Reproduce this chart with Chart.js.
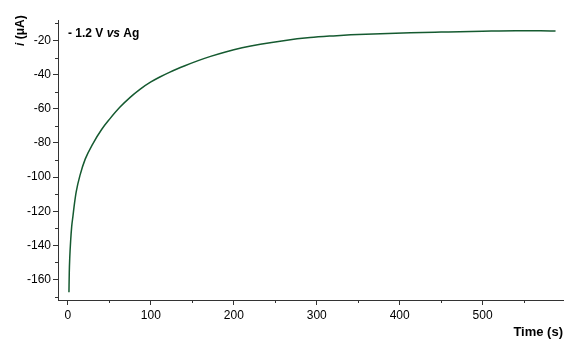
<!DOCTYPE html>
<html>
<head>
<meta charset="utf-8">
<script src="https://cdn.jsdelivr.net/npm/chart.js@4.4.1/dist/chart.umd.min.js"></script>
<style>
  html, body { margin: 0; padding: 0; background: #fff; }
  #wrap { width: 568px; height: 342px; }
</style>
</head>
<body>
<div id="wrap"><canvas id="chart" width="568" height="342"></canvas></div>
<script>
const timeS = [1.2, 1.6, 2.2, 3.3, 4.5, 6, 8, 10, 14.5, 20.8, 30, 40.8, 50, 62.8, 75, 86.8, 100, 110.8, 123, 141, 157, 172, 190, 210, 232, 260, 292, 320, 341, 377, 413, 450, 500, 540, 570, 588];
const currentUA = [-167.5, -156, -147, -137, -129, -123, -115, -108.5, -99, -89.5, -80.5, -72, -66.2, -59, -53.3, -48.6, -44.3, -41.4, -38.5, -34.8, -31.8, -29.3, -26.7, -24.3, -22.2, -20.1, -18.3, -17.3, -16.7, -16, -15.5, -15.1, -14.6, -14.3, -14.3, -14.5];
const xMajorTicks = [0, 100, 200, 300, 400, 500];
const xMinorTicks = [50, 150, 250, 350, 450, 550];
const yMajorTicks = [-160, -140, -120, -100, -80, -60, -40, -20];
const yMinorTicks = [-170, -150, -130, -110, -90, -70, -50, -30, -10];

const FONT = '"Liberation Sans", Arial, sans-serif';
const AXIS_COLOR = '#333';

const extras = {
    id: 'extras',
    afterDraw(chart) {
        const ctx = chart.ctx;
        const xs = chart.scales.x, ys = chart.scales.y;
        ctx.save();
        ctx.strokeStyle = AXIS_COLOR;
        ctx.lineWidth = 1;
        ctx.beginPath();
        xMinorTicks.forEach(v => {
            const px = Math.round(xs.getPixelForValue(v)) + 0.5;
            ctx.moveTo(px, xs.top);
            ctx.lineTo(px, xs.top + 3);
        });
        yMinorTicks.forEach(v => {
            const py = Math.round(ys.getPixelForValue(v)) + 0.5;
            ctx.moveTo(ys.right, py);
            ctx.lineTo(ys.right - 3, py);
        });
        ctx.stroke();

        ctx.fillStyle = '#000';
        ctx.textBaseline = 'alphabetic';
        // annotation
        let x = 68;
        const parts = [['bold ', '- 1.2 V '], ['italic bold ', 'vs'], ['bold ', ' Ag']];
        parts.forEach(([style, txt]) => {
            ctx.font = style + '12px ' + FONT;
            ctx.fillText(txt, x, 37);
            x += ctx.measureText(txt).width;
        });

        // x title
        ctx.font = 'bold 13px ' + FONT;
        ctx.textAlign = 'right';
        ctx.fillText('Time (s)', 563, 336);

        // y title
        ctx.translate(24, 46);
        ctx.rotate(-Math.PI / 2);
        ctx.textAlign = 'left';
        ctx.font = 'italic bold 12px ' + FONT;
        ctx.fillText('i', 0, 0);
        let w = ctx.measureText('i').width;
        ctx.font = 'bold 12px ' + FONT;
        ctx.fillText(' (μA)', w, 0);
        ctx.restore();
    }
};

new Chart(document.getElementById('chart'), {
    type: 'line',
    data: {
        datasets: [{
            data: timeS.map((t, i) => ({ x: t, y: currentUA[i] })),
            borderColor: '#155a30',
            borderWidth: 1.5,
            pointRadius: 0,
            cubicInterpolationMode: 'monotone',
            fill: false
        }]
    },
    options: {
        responsive: false,
        animation: false,
        layout: { padding: { top: 20, right: 5, left: 0, bottom: 0 } },
        plugins: { legend: { display: false }, tooltip: { enabled: false } },
        scales: {
            x: {
                type: 'linear',
                min: -12,
                max: 597,
                afterBuildTicks: s => { s.ticks = xMajorTicks.map(v => ({ value: v })); },
                afterFit: s => { s.height = 42; },
                border: { color: AXIS_COLOR, width: 1 },
                grid: { drawOnChartArea: false, tickLength: 5, color: AXIS_COLOR },
                ticks: { color: '#000', font: { family: FONT, size: 12 }, padding: 3, maxRotation: 0 }
            },
            y: {
                type: 'linear',
                min: -172,
                max: -8,
                afterBuildTicks: s => { s.ticks = yMajorTicks.map(v => ({ value: v })); },
                afterFit: s => { s.width = 58; },
                border: { color: AXIS_COLOR, width: 1 },
                grid: { drawOnChartArea: false, tickLength: 5, color: AXIS_COLOR },
                ticks: { color: '#000', font: { family: FONT, size: 12 }, padding: 2 }
            }
        }
    },
    plugins: [extras]
});
</script>
</body>
</html>
